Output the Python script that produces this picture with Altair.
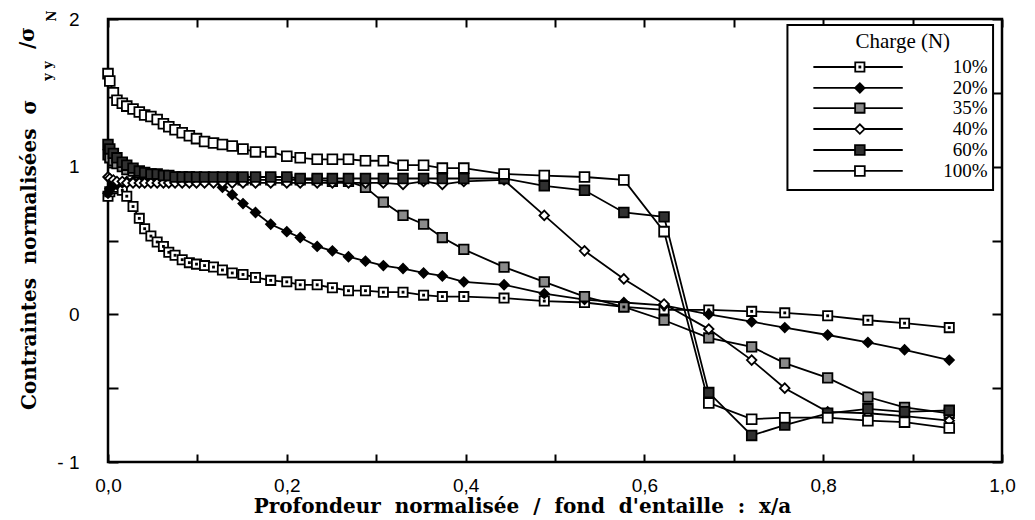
import altair as alt
import pandas as pd

# ---------------- data ----------------
X = [0.000, 0.002, 0.006, 0.010, 0.016, 0.021, 0.028, 0.035, 0.041, 0.048,
     0.055, 0.062, 0.068, 0.075, 0.083, 0.091, 0.099, 0.108, 0.118, 0.128,
     0.139, 0.151, 0.165, 0.182, 0.200, 0.215, 0.234, 0.251, 0.269, 0.288,
     0.308, 0.330, 0.353, 0.374, 0.398, 0.443, 0.488, 0.533, 0.577, 0.622,
     0.672, 0.720, 0.757, 0.805, 0.850, 0.891, 0.941]

SERIES = ["10%", "20%", "35%", "40%", "60%", "100%"]

Y10 = [0.80, 0.83, 0.85, 0.86, 0.84, 0.80, 0.73, 0.65, 0.58, 0.53,
       0.49, 0.46, 0.42, 0.40, 0.37, 0.35, 0.34, 0.33, 0.32, 0.30,
       0.28, 0.27, 0.25, 0.23, 0.22, 0.20, 0.20, 0.18, 0.16, 0.16,
       0.15, 0.15, 0.13, 0.12, 0.12, 0.11, 0.09, 0.08, 0.05, 0.03,
       0.03, 0.02, 0.01, -0.01, -0.04, -0.06, -0.09]

Y20 = [0.82, 0.85, 0.87, 0.88, 0.89, 0.90, 0.90, 0.90, 0.91, 0.91,
       0.91, 0.91, 0.91, 0.91, 0.91, 0.91, 0.91, 0.91, 0.90, 0.86,
       0.81, 0.75, 0.69, 0.61, 0.56, 0.52, 0.46, 0.43, 0.39, 0.36,
       0.33, 0.31, 0.28, 0.26, 0.22, 0.20, 0.14, 0.10, 0.08, 0.06,
       0.00, -0.05, -0.09, -0.14, -0.19, -0.24, -0.31]

Y35 = [1.08, 1.06, 1.04, 1.02, 1.00, 0.98, 0.97, 0.96, 0.95, 0.95,
       0.94, 0.94, 0.93, 0.93, 0.93, 0.93, 0.92, 0.92, 0.92, 0.92,
       0.92, 0.91, 0.91, 0.91, 0.91, 0.91, 0.91, 0.90, 0.90, 0.86,
       0.76, 0.67, 0.61, 0.52, 0.44, 0.32, 0.22, 0.12, 0.05, -0.04,
       -0.16, -0.22, -0.33, -0.43, -0.56, -0.63, -0.67]

Y40 = [0.93, 0.92, 0.91, 0.90, 0.90, 0.89, 0.89, 0.89, 0.89, 0.89,
       0.89, 0.89, 0.89, 0.89, 0.89, 0.89, 0.89, 0.89, 0.89, 0.89,
       0.89, 0.89, 0.89, 0.89, 0.89, 0.89, 0.89, 0.89, 0.89, 0.89,
       0.89, 0.88, 0.90, 0.88, 0.90, 0.91, 0.67, 0.43, 0.24, 0.07,
       -0.10, -0.31, -0.50, -0.66, -0.67, -0.69, -0.72]

Y60 = [1.15, 1.12, 1.09, 1.06, 1.03, 1.01, 0.99, 0.97, 0.96, 0.95,
       0.95, 0.94, 0.94, 0.93, 0.93, 0.93, 0.93, 0.93, 0.93, 0.93,
       0.93, 0.93, 0.93, 0.93, 0.93, 0.92, 0.92, 0.92, 0.92, 0.92,
       0.92, 0.92, 0.92, 0.92, 0.92, 0.92, 0.87, 0.84, 0.69, 0.66,
       -0.53, -0.82, -0.75, -0.67, -0.64, -0.66, -0.65]

Y100 = [1.63, 1.58, 1.50, 1.45, 1.43, 1.41, 1.39, 1.37, 1.35, 1.34,
        1.32, 1.29, 1.27, 1.25, 1.23, 1.21, 1.19, 1.17, 1.16, 1.15,
        1.14, 1.12, 1.10, 1.10, 1.07, 1.06, 1.05, 1.05, 1.05, 1.04,
        1.04, 1.01, 1.01, 0.99, 0.99, 0.95, 0.94, 0.93, 0.91, 0.56,
        -0.60, -0.71, -0.70, -0.70, -0.72, -0.73, -0.77]

X_TICKS = [0.0, 0.1, 0.2, 0.3, 0.4, 0.5, 0.6, 0.7, 0.8, 0.9, 1.0]
Y_TICKS = [-1.0, -0.5, 0.0, 0.5, 1.0, 1.5, 2.0]

SP = "\u00a0\u00a0"  # wide (non-collapsing) word spacing, as in the reference
LEGEND_TITLE = "Charge (N)"
X_TITLE = SP.join(["Profondeur", "normalisée", "/", "fond", "d'entaille", ":", "x/a"])
Y_TITLE_MAIN = SP.join(["Contraintes", "normalisées", "σ"])
Y_TITLE_SLASH = "/σ"
Y_SUB_1 = "y y"
Y_SUB_2 = "N"

# ---------------- tables ----------------
rows = []
for name, ys in zip(SERIES, [Y10, Y20, Y35, Y40, Y60, Y100]):
    for i, (xv, yv) in enumerate(zip(X, ys)):
        rows.append({"serie": name, "order": i, "x": xv, "y": yv})
df = pd.DataFrame(rows)

# legend layout (in data units)
leg_rows = [1.675, 1.533, 1.397, 1.255, 1.113, 0.971]
leg = pd.DataFrame({"serie": SERIES, "ly": leg_rows,
                    "lx1": 0.789, "lx2": 0.889, "lxm": 0.841, "lxt": 0.984})
box = pd.DataFrame({"bx1": [0.760], "bx2": [0.990], "by1": [0.842], "by2": [1.959],
                    "tx": [0.889], "ty": [1.844], "tt": [LEGEND_TITLE]})

xs = alt.Scale(domain=[0, 1], nice=False, zero=False)
ys = alt.Scale(domain=[-1, 2], nice=False, zero=False)

shape_sc = alt.Scale(domain=SERIES,
                     range=["square", "diamond", "square", "diamond", "square", "square"])
fill_sc = alt.Scale(domain=SERIES,
                    range=["white", "black", "#8a8a8a", "white", "#303030", "white"])
size_sc = alt.Scale(domain=SERIES, range=[85, 95, 85, 100, 85, 95])

FONT_T = "DejaVu Serif"
FONT_L = "Liberation Sans"

bottom_axis = alt.Axis(
    orient="bottom", values=X_TICKS,
    labelExpr="round(datum.value*10) % 2 == 0 ? replace(format(datum.value, '.1f'), '.', ',') : ''",
    offset=-8, domain=False, tickSize=8, tickWidth=2, tickColor="black",
    labelPadding=14, labelFont=FONT_L, labelFontSize=19, labelColor="black",
    labelFlush=False, labelOverlap=False, labelBound=False, grid=False,
    title=X_TITLE, titleFont=FONT_T, titleFontWeight="bold", titleFontSize=20,
    titleColor="black", titleX=414, titleY=58, titleBaseline="alphabetic",
    titleAnchor="middle", titleAlign="center")

left_axis = alt.Axis(
    orient="left", values=Y_TICKS,
    labelExpr="datum.value == -1 ? '- 1' : (datum.value % 1 == 0 ? format(datum.value, 'd') : '')",
    offset=-10, domain=False, tickSize=10, tickWidth=2, tickColor="black",
    labelPadding=29, labelFont=FONT_L, labelFontSize=19, labelColor="black",
    labelFlush=False, labelOverlap=False, labelBound=False, grid=False,
    title=None)

top_axis = alt.Axis(orient="top", values=X_TICKS, labels=False, offset=-8,
                    domain=False, tickSize=8, tickWidth=2, tickColor="black",
                    grid=False, title=None)
right_axis = alt.Axis(orient="right", values=Y_TICKS, labels=False, offset=-10,
                      domain=False, tickSize=10, tickWidth=2, tickColor="black",
                      grid=False, title=None)

base = alt.Chart(df)

lines = base.mark_line(color="black", strokeWidth=1.8).encode(
    x=alt.X("x:Q", scale=xs, axis=bottom_axis),
    y=alt.Y("y:Q", scale=ys, axis=left_axis),
    detail="serie:N",
    order="order:Q",
)

frame_ticks = base.mark_line(opacity=0).encode(
    x=alt.X("x:Q", scale=xs, axis=top_axis),
    y=alt.Y("y:Q", scale=ys, axis=right_axis),
    detail="serie:N",
)

points = base.mark_point(stroke="black", strokeWidth=1.8, opacity=1).encode(
    x=alt.X("x:Q", scale=xs, axis=None),
    y=alt.Y("y:Q", scale=ys, axis=None),
    shape=alt.Shape("serie:N", scale=shape_sc, legend=None),
    fill=alt.Fill("serie:N", scale=fill_sc, legend=None),
    size=alt.Size("serie:N", scale=size_sc, legend=None),
)

dots = base.transform_filter(alt.datum.serie == "10%").mark_square(
    color="black", size=8, opacity=1).encode(
    x=alt.X("x:Q", scale=xs, axis=None),
    y=alt.Y("y:Q", scale=ys, axis=None),
)

# ---------------- legend ----------------
lbox = alt.Chart(box).mark_rect(fill="white", stroke="black", strokeWidth=2).encode(
    x=alt.X("bx1:Q", scale=xs, axis=None), x2="bx2:Q",
    y=alt.Y("by1:Q", scale=ys, axis=None), y2="by2:Q",
)
ltitle = alt.Chart(box).mark_text(font="Liberation Serif", fontSize=21,
                                  baseline="middle", align="center", color="black").encode(
    x=alt.X("tx:Q", scale=xs, axis=None),
    y=alt.Y("ty:Q", scale=ys, axis=None),
    text="tt:N",
)
lbase = alt.Chart(leg)
lrules = lbase.mark_rule(color="black", strokeWidth=1.8).encode(
    x=alt.X("lx1:Q", scale=xs, axis=None), x2="lx2:Q",
    y=alt.Y("ly:Q", scale=ys, axis=None),
)
lpoints = lbase.mark_point(stroke="black", strokeWidth=1.8, opacity=1).encode(
    x=alt.X("lxm:Q", scale=xs, axis=None),
    y=alt.Y("ly:Q", scale=ys, axis=None),
    shape=alt.Shape("serie:N", scale=shape_sc, legend=None),
    fill=alt.Fill("serie:N", scale=fill_sc, legend=None),
    size=alt.Size("serie:N", scale=size_sc, legend=None),
)
ldots = lbase.transform_filter(alt.datum.serie == "10%").mark_square(
    color="black", size=8, opacity=1).encode(
    x=alt.X("lxm:Q", scale=xs, axis=None),
    y=alt.Y("ly:Q", scale=ys, axis=None),
)
llabels = lbase.mark_text(font="Liberation Serif", fontSize=19, align="right",
                          baseline="middle", color="black").encode(
    x=alt.X("lxt:Q", scale=xs, axis=None),
    y=alt.Y("ly:Q", scale=ys, axis=None),
    text="serie:N",
)

# ---------------- y title (rotated text, with subscripts) ----------------
def ytext(txt, px, py, size, align):
    return alt.Chart(box).mark_text(
        text=txt, font=FONT_T, fontWeight="bold", fontSize=size, angle=270,
        align=align, baseline="middle", color="black").encode(
        x=alt.value(px), y=alt.value(py))

ytitle_main = ytext(Y_TITLE_MAIN, -78, 391, 20, "left")
ytitle_slash = ytext(Y_TITLE_SLASH, -80, 30, 20, "left")
sub_yy = ytext(Y_SUB_1, -60, 52, 13, "center")
sub_n = ytext(Y_SUB_2, -56, -3, 12, "center")

chart = alt.layer(
    frame_ticks, lines, points, dots,
    lbox, ltitle, lrules, lpoints, ldots, llabels,
    ytitle_main, ytitle_slash, sub_yy, sub_n,
).resolve_axis(
    x="independent", y="independent"
).properties(
    width=894, height=443,
    padding={"left": 100, "top": 11, "right": 25, "bottom": 58},
    autosize=alt.AutoSizeParams(type="none"),
    background="white",
).configure_view(
    stroke="black", strokeWidth=2.5
)

chart.save("out.html", embed_options={"renderer": "svg", "actions": False})
